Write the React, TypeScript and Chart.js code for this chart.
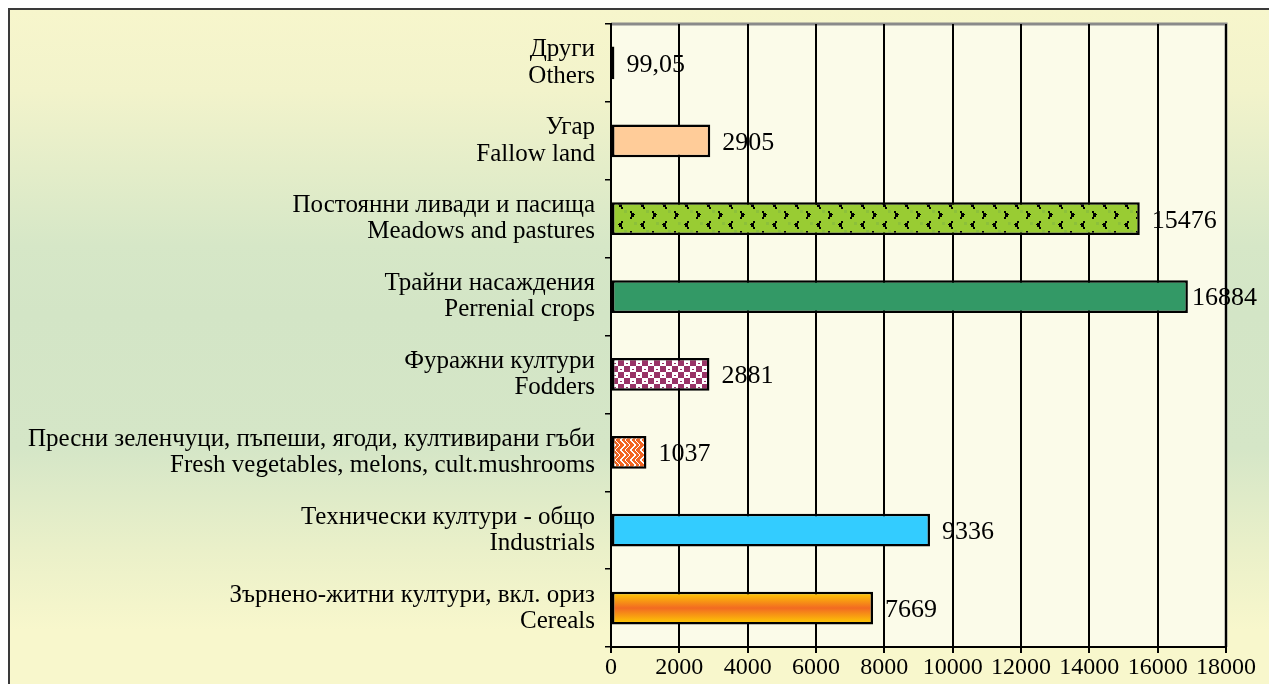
import React, { useEffect, useRef } from "react";
import { Chart, registerables } from "chart.js";

Chart.register(...registerables);

const categories: string[][] = [
  ["Други", "Others"],
  ["Угар", "Fallow land"],
  ["Постоянни ливади и пасища", "Meadows and pastures"],
  ["Трайни насаждения", "Perrenial crops"],
  ["Фуражни култури", "Fodders"],
  ["Пресни зеленчуци, пъпеши, ягоди, култивирани гъби", "Fresh vegetables, melons, cult.mushrooms"],
  ["Технически култури - общо", "Industrials"],
  ["Зърнено-житни култури, вкл. ориз", "Cereals"],
];
const values: number[] = [99.05, 2905, 15476, 16884, 2881, 1037, 9336, 7669];
const xTicks: number[] = [0, 2000, 4000, 6000, 8000, 10000, 12000, 14000, 16000, 18000];

const SERIF = "'Liberation Serif', 'Times New Roman', serif";
const BAR_PCT = 0.42;

function makeTile(w: number, h: number, draw: (c: CanvasRenderingContext2D) => void): HTMLCanvasElement {
  const cv = document.createElement("canvas");
  cv.width = w;
  cv.height = h;
  const c = cv.getContext("2d")!;
  draw(c);
  return cv;
}

function meadowsTile() {
  return makeTile(22, 20, (c) => {
    c.fillStyle = "#99CC33";
    c.fillRect(0, 0, 22, 20);
    c.fillStyle = "#8CC03A";
    c.fillRect(8, 10, 3, 3);
    c.fillRect(18, 2, 3, 3);
    c.fillStyle = "#000";
    // '<' chevron
    c.fillRect(5, 1, 2, 2);
    c.fillRect(3, 3, 3, 2);
    c.fillRect(2, 4, 2, 1);
    c.fillRect(3, 5, 3, 2);
    c.fillRect(5, 7, 2, 2);
    // '>' chevron
    c.fillRect(14, 11, 2, 2);
    c.fillRect(15, 13, 3, 2);
    c.fillRect(17, 14, 2, 1);
    c.fillRect(15, 15, 3, 2);
    c.fillRect(14, 17, 2, 2);
  });
}

function foddersTile() {
  return makeTile(12, 12, (c) => {
    c.fillStyle = "#993366";
    c.fillRect(0, 0, 12, 12);
    c.fillStyle = "#FFFFFF";
    c.fillRect(0, 0, 6, 6);
    c.fillRect(6, 6, 6, 6);
    c.fillStyle = "#993366";
    c.fillRect(2, 3, 2, 1);
    c.fillRect(8, 9, 2, 1);
  });
}

function vegTile() {
  return makeTile(10, 10, (c) => {
    c.fillStyle = "#F26522";
    c.fillRect(0, 0, 10, 10);
    c.fillStyle = "#FFFFFF";
    for (let i = 0; i < 5; i++) {
      c.fillRect(i, i, 2, 1);
      c.fillRect(9 - i, i + 5, 1, 1);
      c.fillRect(i + 5, i, 1, 1);
      c.fillRect(4 - i, i + 5, 2, 1);
    }
  });
}

const plotBgPlugin = {
  id: "plotBg",
  beforeDraw(chart: any) {
    const { ctx, chartArea: a } = chart;
    ctx.save();
    ctx.fillStyle = "#FBFBE9";
    ctx.fillRect(a.left, a.top, a.right - a.left, a.bottom - a.top);
    ctx.strokeStyle = "#8A8A8A";
    ctx.lineWidth = 3;
    ctx.beginPath();
    ctx.moveTo(a.left, a.top);
    ctx.lineTo(a.right, a.top);
    ctx.lineTo(a.right, a.bottom);
    ctx.stroke();
    ctx.restore();
  },
};

const valueLabelPlugin = {
  id: "valueLabels",
  afterDatasetsDraw(chart: any) {
    const { ctx } = chart;
    const meta = chart.getDatasetMeta(0);
    ctx.save();
    ctx.font = `26px ${SERIF}`;
    ctx.fillStyle = "#000";
    ctx.textBaseline = "middle";
    ctx.textAlign = "left";
    meta.data.forEach((el: any, i: number) => {
      const txt = String(values[i]).replace(".", ",");
      const w = ctx.measureText(txt).width;
      let x = el.x + 12;
      if (x + w > 1257) x = 1257 - w;
      ctx.fillText(txt, x, el.y + 2);
    });
    ctx.restore();
  },
};

export default function App() {
  const ref = useRef<HTMLCanvasElement>(null);

  useEffect(() => {
    const canvas = ref.current!;
    const ctx0 = canvas.getContext("2d")!;
    const patMeadows = ctx0.createPattern(meadowsTile(), "repeat")!;
    const patFodders = ctx0.createPattern(foddersTile(), "repeat")!;
    const patVeg = ctx0.createPattern(vegTile(), "repeat")!;

    const fills: any[] = ["#000000", "#FFCC99", patMeadows, "#339966", patFodders, patVeg, "#33CCFF", null];

    const chart = new Chart(canvas, {
      type: "bar",
      data: {
        labels: categories,
        datasets: [
          {
            data: values,
            backgroundColor: (c: any) => {
              const f = fills[c.dataIndex];
              if (f) return f;
              const chart = c.chart;
              const a = chart.chartArea;
              if (!a || !chart.scales.y) return "#F7931E";
              const yc = chart.scales.y.getPixelForValue(c.dataIndex);
              const half = ((a.bottom - a.top) / categories.length) * BAR_PCT / 2;
              const g = chart.ctx.createLinearGradient(0, yc - half, 0, yc + half);
              g.addColorStop(0, "#FFD200");
              g.addColorStop(0.5, "#F26A22");
              g.addColorStop(1, "#FFD200");
              return g;
            },
            borderColor: "#000",
            borderWidth: 2.5,
            borderSkipped: false,
            barPercentage: BAR_PCT,
            categoryPercentage: 1,
          },
        ],
      },
      options: {
        indexAxis: "y",
        responsive: false,
        animation: false,
        layout: { padding: { top: 24, right: 43, bottom: 0, left: 0 } },
        plugins: {
          legend: { display: false },
          tooltip: { enabled: false },
          title: { display: false },
        },
        scales: {
          x: {
            type: "linear",
            min: 0,
            max: 18000,
            afterBuildTicks: (s: any) => {
              s.ticks = xTicks.map((v) => ({ value: v }));
            },
            afterFit: (s: any) => {
              s.height = 37;
              s.paddingLeft = 0;
              s.paddingRight = 0;
            },
            ticks: {
              color: "#000",
              font: { family: SERIF, size: 24 },
              padding: 0,
              maxRotation: 0,
              autoSkip: false,
              callback: (v: any) => String(v),
            },
            grid: {
              color: "#000",
              lineWidth: 2,
              tickLength: 6,
              drawTicks: true,
            },
            border: { color: "#000", width: 2 },
          },
          y: {
            type: "category",
            afterFit: (s: any) => {
              s.width = 611;
              s.paddingTop = 0;
              s.paddingBottom = 0;
            },
            ticks: {
              color: "#000",
              font: { family: SERIF, size: 25, lineHeight: 1.05 },
              padding: 10,
              autoSkip: false,
            },
            grid: {
              color: "#000",
              lineWidth: 1.5,
              drawOnChartArea: false,
              drawTicks: true,
              tickLength: 6,
              offset: true,
            },
            border: { color: "#000", width: 2 },
          },
        },
      } as any,
      plugins: [plotBgPlugin, valueLabelPlugin],
    });
    return () => chart.destroy();
  }, []);

  return (
    <>
      <div
        style={{
          position: "fixed",
          left: 8,
          top: 8,
          width: 1261,
          height: 676,
          boxSizing: "border-box",
          borderLeft: "2px solid #3a3a3a",
          borderTop: "2px solid #3a3a3a",
          background:
            "linear-gradient(to bottom, #F7F6CC 0%, #F2F3CB 12%, #D6E7C7 35%, #D3E5C6 45%, #D5E6C7 65%, #EAF0C9 80%, #F8F7CC 92%, #F8F7CC 100%)",
        }}
      />
      <canvas
        ref={ref}
        width={1269}
        height={684}
        style={{ position: "fixed", left: 0, top: 0, width: 1269, height: 684 }}
      />
    </>
  );
}
